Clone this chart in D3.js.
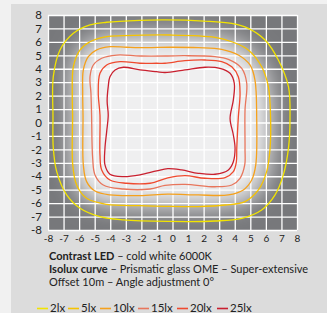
<!DOCTYPE html>
<html><head><meta charset="utf-8">
<script src="https://cdn.jsdelivr.net/npm/d3@7"></script>
<style>
html,body{margin:0;padding:0;background:#f1f1f1;}
svg{display:block;}
text{font-family:Lato,"Open Sans",sans-serif;}
</style></head><body>
<svg id="c" width="327" height="313"></svg>
<script>
const xTicks = [-8,-7,-6,-5,-4,-3,-2,-1,0,1,2,3,4,5,6,7,8];
const yTicks = [-8,-7,-6,-5,-4,-3,-2,-1,0,1,2,3,4,5,6,7,8];
const seriesNames = ["2lx","5lx","10lx","15lx","20lx","25lx"];
const seriesColors = ["#f2e400","#f6c300","#f5a11c","#e8765c","#ef4a2f","#c9202f"];

const curve2lx = [[-0.48,7.63],[2.0,7.55],[3.8,7.38],[4.87,7.01],[5.95,6.14],[6.8,4.65],[7.45,2.67],[7.55,0.3],[7.45,-1.92],[7.12,-3.9],[6.59,-5.39],[5.73,-6.51],[4.45,-7.13],[2.73,-7.33],[-0.3,-7.36],[-3.16,-7.25],[-4.66,-7.01],[-5.94,-6.38],[-6.8,-5.39],[-7.44,-3.66],[-7.66,-1.9],[-7.68,0.5],[-7.66,3.41],[-7.23,5.4],[-6.37,6.64],[-5.3,7.26],[-4.23,7.46],[-2.09,7.6]];
const curve5lx = [[-0.16,6.51],[2.73,6.34],[3.81,6.01],[4.87,5.4],[5.73,4.15],[6.16,2.67],[6.3,0.4],[6.27,-1.92],[6.05,-3.66],[5.52,-5.02],[4.66,-5.89],[3.38,-6.14],[1.66,-6.26],[-0.48,-6.24],[-2.09,-6.19],[-4.23,-6.09],[-5.52,-5.64],[-6.16,-4.65],[-6.41,-3.16],[-6.42,0.5],[-6.44,2.17],[-6.37,4.15],[-5.94,5.4],[-5.3,6.01],[-4.23,6.39],[-3.16,6.46]];
const curve10lx = [[-0.16,5.6],[1.66,5.57],[3.16,5.45],[4.23,5.02],[4.98,4.28],[5.3,3.16],[5.41,0.4],[5.35,-3.16],[5.09,-4.28],[4.55,-5.02],[3.59,-5.39],[1.66,-5.39],[-0.3,-5.33],[-2.09,-5.44],[-4.02,-5.39],[-4.98,-5.1],[-5.52,-4.4],[-5.73,-3.16],[-5.75,0.5],[-5.77,2.17],[-5.73,3.91],[-5.41,4.9],[-4.87,5.4],[-4.02,5.64],[-2.95,5.6],[-1.66,5.57]];
const curve15lx = [[-0.3,4.95],[0.8,4.97],[2.73,4.9],[3.59,4.7],[4.45,4.03],[4.77,2.92],[4.66,0.93],[4.66,-1.92],[4.64,-3.16],[4.34,-4.15],[3.81,-4.65],[2.73,-4.78],[0.8,-4.6],[-0.48,-4.68],[-1.44,-4.95],[-3.16,-4.95],[-4.45,-4.65],[-4.98,-3.9],[-5.13,-2.66],[-5.2,0.56],[-5.24,2.17],[-5.3,3.41],[-5.09,4.28],[-4.55,4.78],[-3.58,5.02],[-2.09,4.95]];
const curve20lx = [[-0.48,4.41],[0.8,4.6],[2.09,4.65],[3.16,4.53],[3.81,4.15],[4.23,3.41],[4.34,2.17],[4.23,0.4],[4.13,-1.92],[4.1,-2.95],[3.91,-3.66],[3.38,-4.1],[2.09,-4.15],[0.8,-3.96],[-0.3,-4.12],[-1.44,-4.52],[-2.95,-4.52],[-4.02,-4.28],[-4.55,-3.53],[-4.66,-2.42],[-4.66,0.56],[-4.77,2.17],[-4.66,3.66],[-4.23,4.28],[-3.37,4.53],[-2.09,4.41],[-1.02,4.41]];
const curve25lx = [[-0.48,3.72],[0.8,3.91],[2.09,4.11],[3.05,4.03],[3.7,3.66],[3.97,2.92],[3.91,1.68],[3.7,0.3],[3.91,-0.93],[4.02,-1.92],[3.91,-2.92],[3.59,-3.53],[2.73,-3.85],[1.66,-3.78],[0.59,-3.53],[-0.3,-3.43],[-1.02,-3.6],[-2.09,-3.9],[-3.16,-4.03],[-4.02,-3.85],[-4.34,-3.16],[-4.34,-1.92],[-4.23,-0.68],[-4.13,0.56],[-4.2,1.6],[-4.13,2.67],[-4.02,3.41],[-3.69,3.91],[-3.16,4.11],[-2.09,3.91],[-1.02,3.78]];
const curves = [curve2lx,curve5lx,curve10lx,curve15lx,curve20lx,curve25lx];

const svg = d3.select("#c");
const W = 327, H = 313;
svg.append("rect").attr("x",11).attr("y",4).attr("width",W-11).attr("height",H-4).attr("fill","#dcdcdc");

const x = d3.scaleLinear().domain([-8,8]).range([48,297]);
const y = d3.scaleLinear().domain([-8,8]).range([230,15]);
const line = d3.line().x(d=>x(d[0])).y(d=>y(d[1])).curve(d3.curveCatmullRomClosed.alpha(0.5));

const defs = svg.append("defs");
defs.append("clipPath").attr("id","plotclip").append("rect")
  .attr("x",x(-8)).attr("y",y(8)).attr("width",x(8)-x(-8)).attr("height",y(-8)-y(8));
const f = defs.append("filter").attr("id","glow").attr("x","-50%").attr("y","-50%").attr("width","200%").attr("height","200%");
f.append("feGaussianBlur").attr("stdDeviation",12);

const plot = svg.append("g").attr("clip-path","url(#plotclip)");
plot.append("rect").attr("x",x(-8)).attr("y",y(8)).attr("width",x(8)-x(-8)).attr("height",y(-8)-y(8)).attr("fill","#77787b");
plot.append("path").attr("d",line(curve5lx)).attr("fill","#efeff0").attr("filter","url(#glow)");

// grid
const gx = svg.append("g").attr("transform",`translate(0,${y(-8)})`)
  .call(d3.axisBottom(x).tickValues(xTicks).tickSize(-(y(-8)-y(8))).tickFormat(""));
gx.select(".domain").remove();
gx.selectAll("line").attr("stroke","#fff").attr("stroke-width",1.3);
const gy = svg.append("g").attr("transform",`translate(${x(-8)},0)`)
  .call(d3.axisLeft(y).tickValues(yTicks).tickSize(-(x(8)-x(-8))).tickFormat(""));
gy.select(".domain").remove();
gy.selectAll("line").attr("stroke","#fff").attr("stroke-width",1.3);

// curves
svg.append("g").selectAll("path").data(curves).join("path")
  .attr("d",d=>line(d)).attr("fill","none")
  .attr("stroke",(d,i)=>seriesColors[i]).attr("stroke-width",1.3);

// axes labels
const ax = svg.append("g").attr("transform",`translate(0,${y(-8)})`)
  .call(d3.axisBottom(x).tickValues(xTicks).tickSize(0).tickPadding(5).tickFormat(d=>String(d)));
ax.select(".domain").remove();
ax.selectAll("text").attr("font-size",10).attr("fill","#222").style("font-family","Lato,sans-serif");
const ay = svg.append("g").attr("transform",`translate(${x(-8)},0)`)
  .call(d3.axisLeft(y).tickValues(yTicks).tickSize(0).tickPadding(6).tickFormat(d=>String(d)));
ay.select(".domain").remove();
ay.selectAll("text").attr("font-size",11.5).attr("fill","#222").style("font-family","Lato,sans-serif");

// description
const desc = [
  [["Contrast LED",true],[" – cold white 6000K",false]],
  [["Isolux curve",true],[" – Prismatic glass OME – Super-extensive",false]],
  [["Offset 10m – Angle adjustment 0°",false]]
];
const dg = svg.append("g");
desc.forEach((parts,i)=>{
  const t = dg.append("text").attr("x",49).attr("y",259.5+i*13).attr("font-size",11).attr("fill","#222");
  parts.forEach(p=>t.append("tspan").text(p[0]).attr("font-weight",p[1]?"bold":"normal"));
});

// legend
const legX = [37,68,100,138,177,217];
const lg = svg.append("g");
seriesNames.forEach((n,i)=>{
  lg.append("line").attr("x1",legX[i]).attr("x2",legX[i]+11).attr("y1",308.5).attr("y2",308.5)
    .attr("stroke",seriesColors[i]).attr("stroke-width",1.6);
  lg.append("text").attr("x",legX[i]+13).attr("y",312).attr("font-size",11.5).attr("fill","#222").text(n);
});
</script>
</body></html>
